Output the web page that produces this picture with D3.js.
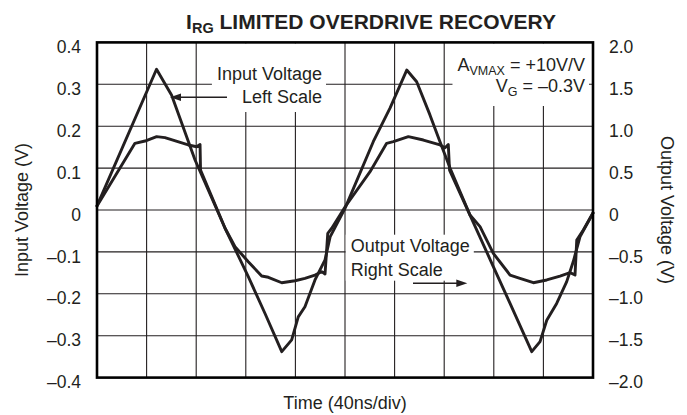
<!DOCTYPE html>
<html>
<head>
<meta charset="utf-8">
<script src="https://cdn.jsdelivr.net/npm/d3@7"></script>
<style>
  html, body { margin: 0; padding: 0; background: #fff; }
  svg { display: block; }
  text { font-family: "Liberation Sans", Arial, Helvetica, sans-serif; fill: #231f20; }
</style>
</head>
<body>
<svg id="chart" width="687" height="415"></svg>
<script>
// Input voltage trace (left scale, V) against time (ns)
const inputTime = [0, 48, 60.2, 79, 103.2, 122, 135.5, 149, 157, 162.3, 167.7, 175.8, 183.9, 188, 200,
  222.8, 236.3, 249.8, 257.8, 268.5, 276.6, 284.7, 300.8, 319.6, 333.1, 350.6, 357.3, 362.7, 370.7,
  378.8, 384.1, 389.5, 400];
const inputVolts = [0.01, 0.336, 0.274, 0.12, -0.043, -0.159, -0.247, -0.338, -0.31, -0.255, -0.231,
  -0.167, -0.119, -0.064, 0.004, 0.163, 0.243, 0.334, 0.306, 0.227, 0.163, 0.1, -0.012, -0.135,
  -0.223, -0.338, -0.314, -0.263, -0.223, -0.171, -0.123, -0.064, -0.007];

// Output voltage trace (right scale, V) against time (ns)
const outputTime = [0, 30.6, 38.7, 48.1, 54.8, 73.6, 80.4, 83.1, 83.5, 103.2, 111.3, 122, 132.8, 138.2,
  149, 159.7, 167.7, 175.8, 181.2, 183.9, 186.1, 189.3, 200, 220.2, 233.6, 239, 251.1, 263.2, 276.6,
  280.7, 283.3, 284.3, 300.8, 308.9, 319.6, 333.1, 341.1, 351.9, 362.7, 373.4, 381.5, 385.5, 386.9,
  392.2, 400];
const outputVolts = [0.048, 0.796, 0.823, 0.875, 0.863, 0.776, 0.755, 0.782, 0.477, -0.215, -0.438,
  -0.617, -0.788, -0.803, -0.868, -0.844, -0.815, -0.776, -0.736, -0.764, -0.278, -0.218, 0.036,
  0.457, 0.796, 0.815, 0.875, 0.835, 0.776, 0.743, 0.782, 0.477, -0.06, -0.199, -0.517, -0.776,
  -0.815, -0.868, -0.835, -0.788, -0.748, -0.776, -0.358, -0.239, -0.036];

// Axis ticks and their labels
const timeGrid = [40, 80, 120, 160, 200, 240, 280, 320, 360];
const leftTicks = [-0.4, -0.3, -0.2, -0.1, 0, 0.1, 0.2, 0.3, 0.4];
const leftTickLabels = ["–0.4", "–0.3", "–0.2", "–0.1", "0", "0.1", "0.2", "0.3", "0.4"];
const rightTicks = [-2, -1.5, -1, -0.5, 0, 0.5, 1, 1.5, 2];
const rightTickLabels = ["–2.0", "–1.5", "–1.0", "–0.5", "0", "0.5", "1.0", "1.5", "2.0"];

const svg = d3.select("#chart");
const ink = "#231f20";
const plot = { left: 97, right: 593, top: 42.4, bottom: 377.6 };

const x = d3.scaleLinear().domain([0, 400]).range([plot.left, plot.right]);
const yL = d3.scaleLinear().domain([-0.4, 0.4]).range([plot.bottom, plot.top]);
const yR = d3.scaleLinear().domain([-2, 2]).range([plot.bottom, plot.top]);

// grid
const grid = svg.append("g").attr("stroke", ink).attr("stroke-width", 1.1);
grid.selectAll("line.v").data(timeGrid).join("line")
  .attr("x1", d => x(d)).attr("x2", d => x(d))
  .attr("y1", plot.top).attr("y2", plot.bottom);
grid.selectAll("line.h").data(leftTicks.slice(1, -1)).join("line")
  .attr("x1", plot.left).attr("x2", plot.right)
  .attr("y1", d => yL(d)).attr("y2", d => yL(d));

// annotation layer (white boxes hide the grid behind the notes)
const boxes = svg.append("g");
const notes = svg.append("g").style("font-size", "18px");

function multiLine(g, lines, xPos, yPos, anchor) {
  const t = g.append("text").attr("text-anchor", anchor);
  lines.forEach((ln, i) => {
    t.append("tspan").attr("x", xPos).attr("y", yPos[i]).text(ln);
  });
  return t;
}

const inNote = multiLine(notes, ["Input Voltage", "Left Scale"], 322, [80, 103], "end");
const outNote = multiLine(notes, ["Output Voltage", "Right Scale"], 350.7, [251.7, 275.7], "start");

const cond = notes.append("g").attr("text-anchor", "end");
const c1 = cond.append("text").attr("x", 585).attr("y", 71);
c1.append("tspan").text("A");
c1.append("tspan").attr("dy", 4).style("font-size", "12.5px").text("VMAX");
c1.append("tspan").attr("dy", -4).text(" = +10V/V");
const c2 = cond.append("text").attr("x", 585).attr("y", 92);
c2.append("tspan").text("V");
c2.append("tspan").attr("dy", 4).style("font-size", "12.5px").text("G");
c2.append("tspan").attr("dy", -4).text(" = –0.3V");

function box(b, top, bottom) {
  boxes.append("rect")
    .attr("x", b.x - 5).attr("width", b.width + 9)
    .attr("y", top).attr("height", bottom - top)
    .attr("fill", "#fff");
}
const bIn = inNote.node().getBBox();
box(bIn, plot.top + 1, bIn.y + bIn.height + 5);
const bCond = cond.node().getBBox();
box(bCond, plot.top + 1, bCond.y + bCond.height + 7);
const bOut = outNote.node().getBBox();
box(bOut, bOut.y - 1, bOut.y + bOut.height + 1);

// traces
const lineIn = d3.line().x(d => x(d[0])).y(d => yL(d[1]));
const lineOut = d3.line().x(d => x(d[0])).y(d => yR(d[1]));
const traces = svg.append("g").attr("fill", "none").attr("stroke", ink)
  .attr("stroke-width", 2.9).attr("stroke-linejoin", "round").attr("stroke-linecap", "round");
traces.append("path").attr("d", lineOut(d3.zip(outputTime, outputVolts)));
traces.append("path").attr("d", lineIn(d3.zip(inputTime, inputVolts)));

// arrows from the notes to their traces
function arrow(x0, x1, yy) {
  const dir = Math.sign(x1 - x0);
  svg.append("line").attr("x1", x0).attr("x2", x1 - dir * 9).attr("y1", yy).attr("y2", yy)
    .attr("stroke", ink).attr("stroke-width", 1.4);
  svg.append("path")
    .attr("d", `M${x1},${yy}L${x1 - dir * 11},${yy - 3.8}L${x1 - dir * 11},${yy + 3.8}Z`)
    .attr("fill", ink);
}
arrow(227, 170, 97.3);
arrow(413, 467.3, 283.3);

// frame
svg.append("rect")
  .attr("x", plot.left).attr("y", plot.top)
  .attr("width", plot.right - plot.left).attr("height", plot.bottom - plot.top)
  .attr("fill", "none").attr("stroke", "#000").attr("stroke-width", 2.6);

// axes (labels only)
const axL = svg.append("g").attr("transform", `translate(${plot.left},0)`)
  .call(d3.axisLeft(yL).tickValues(leftTicks).tickSize(0).tickPadding(16)
    .tickFormat((d, i) => leftTickLabels[i]));
const axR = svg.append("g").attr("transform", `translate(${plot.right},0)`)
  .call(d3.axisRight(yR).tickValues(rightTicks).tickSize(0).tickPadding(16)
    .tickFormat((d, i) => rightTickLabels[i]));
[axL, axR].forEach(a => {
  a.select(".domain").remove();
  a.selectAll("text").attr("dy", "0.58em")
    .style("font-size", "17.5px").style("font-family", '"Liberation Sans", Arial, sans-serif')
    .attr("fill", ink);
});

// titles
const title = svg.append("text").attr("x", 371).attr("y", 29).attr("text-anchor", "middle")
  .style("font-size", "21px").style("font-weight", "bold");
title.append("tspan").text("I");
title.append("tspan").attr("dy", 4).style("font-size", "14.5px").text("RG");
title.append("tspan").attr("dy", -4).text(" LIMITED OVERDRIVE RECOVERY");

svg.append("text").attr("x", 345).attr("y", 409).attr("text-anchor", "middle")
  .style("font-size", "18px").text("Time (40ns/div)");
svg.append("text").attr("transform", "translate(28,210) rotate(-90)").attr("text-anchor", "middle")
  .style("font-size", "18px").text("Input Voltage (V)");
svg.append("text").attr("transform", "translate(661,210) rotate(90)").attr("text-anchor", "middle")
  .style("font-size", "18px").text("Output Voltage (V)");
</script>
</body>
</html>
